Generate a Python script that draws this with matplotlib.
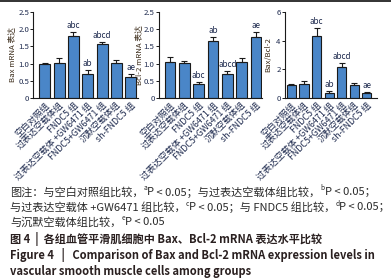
import matplotlib
matplotlib.use("Agg")
import matplotlib.pyplot as plt
from matplotlib.lines import Line2D
from matplotlib.ticker import FuncFormatter

plt.rcParams['font.family'] = ['Noto Sans CJK SC', 'DejaVu Sans']

groups = ["空白对照组", "过表达空载体组", "FNDC5 组", "过表达空载体 +GW6471 组",
          "FNDC5+GW6471 组", "沉默空载体组", "sh-FNDC5 组"]

bax_mean = [0.98, 1.03, 1.81, 0.69, 1.57, 1.03, 0.61]
bax_err = [0.05, 0.13, 0.11, 0.12, 0.06, 0.07, 0.08]
bcl_mean = [1.06, 1.02, 0.41, 1.67, 0.69, 1.06, 1.76]
bcl_err = [0.12, 0.06, 0.06, 0.11, 0.09, 0.10, 0.16]
ratio_mean = [0.89, 0.98, 4.33, 0.36, 2.17, 0.91, 0.32]
ratio_err = [0.07, 0.23, 0.53, 0.12, 0.29, 0.14, 0.09]
sig = ["", "", "abc", "ab", "abcd", "", "ae"]

bax_ticks = [0, 0.5, 1.0, 1.5, 2.0, 2.5]
bcl_ticks = [0, 0.5, 1.0, 1.5, 2.0, 2.5]
ratio_ticks = [0, 2, 4, 6]

W, H = 391, 280
fig = plt.figure(figsize=(W / 100, H / 100), dpi=100)

bar_color = "#4a86c8"
txt_color = "#1e2a4e"

panels = [
    dict(mean=bax_mean, err=bax_err, ticks=bax_ticks, ylabel="Bax mRNA 表达",
         rect=(33, 138), xlim=(-0.83, 6.52), width=0.77, ymax=2.5, fmt="%.1f", lx=16.5),
    dict(mean=bcl_mean, err=bcl_err, ticks=bcl_ticks, ylabel="Bcl-2 mRNA 表达",
         rect=(158.5, 262), xlim=(-0.80, 6.42), width=0.74, ymax=2.5, fmt="%.1f", lx=143),
    dict(mean=ratio_mean, err=ratio_err, ticks=ratio_ticks, ylabel="Bax/Bcl-2",
         rect=(284.5, 377), xlim=(-0.55, 6.8), width=0.72, ymax=6, fmt="%d", lx=272),
]

top_px, bot_px = 12, 98
for p in panels:
    l, r = p["rect"]
    ax = fig.add_axes([l / W, 1 - bot_px / H, (r - l) / W, (bot_px - top_px) / H])
    x = list(range(len(groups)))
    ax.bar(x, p["mean"], width=p["width"], color=bar_color, edgecolor="#1a1a1a",
           linewidth=0.8, zorder=2)
    ax.errorbar(x, p["mean"], yerr=[[0] * len(x), p["err"]], fmt="none",
                ecolor="#1a1a1a", elinewidth=0.8, capsize=2.2, capthick=0.8, zorder=3)
    for xi, m, e, s in zip(x, p["mean"], p["err"], sig):
        if s:
            ax.annotate(s, (xi, m + e), xytext=(0, 1.5), textcoords="offset points",
                        ha="center", va="bottom", fontsize=5.8, color=txt_color)
    ax.set_xlim(*p["xlim"])
    ax.set_ylim(0, p["ymax"])
    ax.set_yticks(p["ticks"])
    fmt = p["fmt"]
    ax.yaxis.set_major_formatter(FuncFormatter(
        lambda v, pos, fmt=fmt: "0" if v == 0 else fmt % v))
    ax.tick_params(axis="y", labelsize=5.6, length=2, width=0.7, pad=0.8,
                   colors="#1a1a1a", labelcolor=txt_color)
    ax.set_xticks(x)
    ax.set_xticklabels(groups, rotation=45, ha="right", rotation_mode="anchor",
                       fontsize=6.4, color=txt_color)
    ax.tick_params(axis="x", length=0, pad=2)
    for side in ("top", "right"):
        ax.spines[side].set_visible(False)
    for side in ("left", "bottom"):
        ax.spines[side].set_linewidth(0.8)
        ax.spines[side].set_color("#1a1a1a")
    ax.set_ylabel(p["ylabel"], fontsize=5.6, color="#3a2a18")
    ax.yaxis.set_label_coords((p["lx"] - l) / (r - l), 0.5)

fig.add_artist(Line2D([0, 1], [1 - 1.2 / H, 1 - 1.2 / H], color="#222222", lw=1.3))


def rich(x_px, y_px, segments, size, weight="normal", color="#2a2a2a"):
    renderer = fig.canvas.get_renderer()
    x = x_px / W
    for s, kind in segments:
        fs = size
        yy = 1 - y_px / H
        style = "normal"
        if kind == "sup":
            fs = size * 0.6
            yy += 3.5 / H
        elif kind == "it":
            style = "italic"
        t = fig.text(x, yy, s, fontsize=fs, fontstyle=style, fontweight=weight,
                     color=color, va="center", ha="left",
                     family=['Noto Sans CJK SC', 'DejaVu Sans'])
        bb = t.get_window_extent(renderer)
        x += bb.width / fig.bbox.width


cs = 8.0
bs = 8.0
rich(10, 192, [("图注：与空白对照组比较，", ""), ("a", "sup"), ("P", "it"),
               (" < 0.05；与过表达空载体组比较，", ""), ("b", "sup"), ("P", "it"),
               (" < 0.05；", "")], cs)
rich(10, 207, [("与过表达空载体 +GW6471 组比较，", ""), ("c", "sup"), ("P", "it"),
               (" < 0.05；与 FNDC5 组比较，", ""), ("d", "sup"), ("P", "it"),
               (" < 0.05；", "")], cs)
rich(10, 222, [("与沉默空载体组比较，", ""), ("e", "sup"), ("P", "it"),
               (" < 0.05", "")], cs)
rich(10, 239, [("图 4  |  各组血管平滑肌细胞中 Bax、Bcl-2 mRNA 表达水平比较", "")], bs,
     weight="bold", color="#2a2020")
rich(10, 255, [("Figure 4   |   Comparison of Bax and Bcl-2 mRNA expression levels in", "")],
     bs, weight="bold", color="#2a2020")
rich(10, 271, [("vascular smooth muscle cells among groups", "")], bs,
     weight="bold", color="#2a2020")

fig.savefig("out.png", dpi=100)
